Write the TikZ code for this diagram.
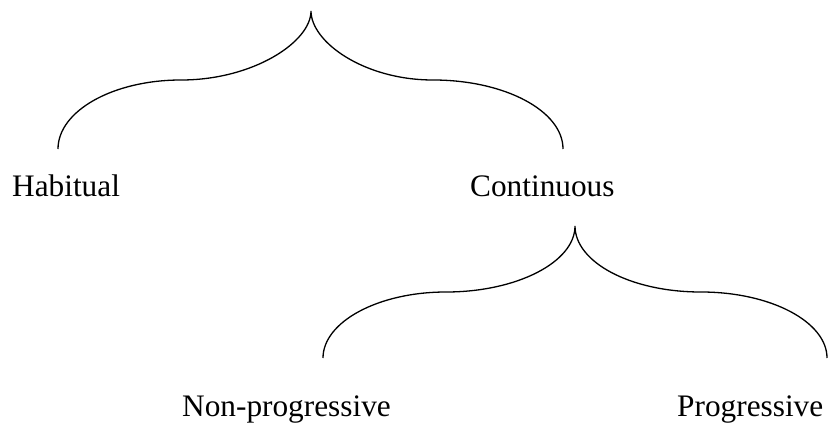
\documentclass[tikz,border=0pt]{standalone}
\usepackage{fontspec}
\setmainfont{Liberation Serif}
\begin{document}
\begin{tikzpicture}[x=1pt,y=-1pt,
  label/.style={anchor=base west,inner sep=0pt,font=\fontsize{31.3}{37}\selectfont},
  bracket/.style={line width=1.3pt}]
\useasboundingbox (0,0) rectangle (834,425);

% labels
\node[label] (hab)  at (12,196)  {Habitual};
\node[label] (cont) at (470,196) {Continuous};
\node[label] (nonp) at (182,416) {Non-progressive};
\node[label] (prog) at (677,416) {Progressive};

% upper brace
\coordinate (t1) at (311,11);
\coordinate (l1) at (58,149);
\coordinate (r1) at (563,149);
\draw[bracket] (l1) .. controls (58,111) and (113,80) .. (181,80)
  .. controls (253,80) and (311,42) .. (t1)
  .. controls (311,42) and (364,80) .. (433,80)
  .. controls (505,80) and (563,111) .. (r1);

% lower brace
\coordinate (t2) at (575,226);
\coordinate (l2) at (323,358);
\coordinate (r2) at (827,358);
\draw[bracket] (l2) .. controls (323,322) and (378,292) .. (446,292)
  .. controls (517,292) and (575,262) .. (t2)
  .. controls (575,262) and (630,292) .. (701,292)
  .. controls (771,292) and (827,322) .. (r2);
\end{tikzpicture}
\end{document}
